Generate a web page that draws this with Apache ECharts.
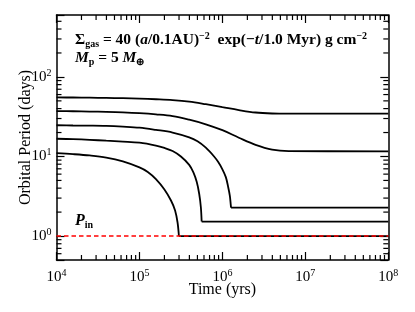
<!DOCTYPE html>
<html><head><meta charset="utf-8">
<script src="https://cdn.jsdelivr.net/npm/echarts@6/dist/echarts.min.js"></script>
<style>html,body{margin:0;padding:0;background:#fff}#c{width:415px;height:312px}</style>
</head><body><div id="c"></div>
<script>
// ---- data (time in yr, orbital period in days) ----
const xRange = [1e4, 1e8];
const yRange = [0.5, 600];
const xTickLabels = ['10^4', '10^5', '10^6', '10^7', '10^8'];
const yTickLabels = ['10^0', '10^1', '10^2'];
const planet1 = [[1e4,55.2],[1.58e4,55.1],[2.51e4,54.8],[3.98e4,54.5],[6.31e4,54.0],[1e5,53.3],[1.58e5,52.4],[2.51e5,51.2],[3.98e5,49.0],[6.31e5,45.4],[1e6,41.7],[1.58e6,38.3],[2.51e6,35.7],[3.98e6,34.7],[6.31e6,34.5],[1e8,34.5]];
const planet2 = [[1e4,37.2],[1.58e4,37.0],[2.51e4,36.7],[3.98e4,36.4],[6.31e4,35.9],[1e5,35.1],[1.58e5,33.9],[2.51e5,32.2],[3.98e5,29.0],[6.31e5,25.4],[1e6,21.4],[1.58e6,17.2],[2.51e6,14.0],[3.98e6,12.2],[6.31e6,11.7],[1e8,11.6]];
const planet3 = [[1e4,24.7],[1.58e4,24.5],[2.51e4,24.4],[3.98e4,24.2],[6.31e4,23.7],[1e5,23.0],[1.58e5,21.6],[2.51e5,20.0],[3.98e5,17.4],[5.01e5,15.5],[6.31e5,12.9],[7.94e5,10.0],[8.91e5,8.5],[1e6,6.9],[1.10e6,5.5],[1.17e6,4.2],[1.23e6,3.2],[1.26e6,2.5],[1.27e6,2.28],[1e8,2.28]];
const planet4 = [[1e4,16.7],[1.58e4,16.5],[2.51e4,16.2],[3.98e4,15.8],[6.31e4,15.4],[1e5,14.9],[1.58e5,13.7],[2.0e5,12.8],[2.51e5,11.7],[3.16e5,10.0],[3.98e5,7.85],[4.47e5,6.3],[4.90e5,4.8],[5.25e5,3.4],[5.50e5,2.3],[5.62e5,1.52],[1e8,1.52]];
const planet5 = [[1e4,11.0],[1.58e4,10.7],[2.51e4,10.3],[3.98e4,9.7],[6.31e4,8.7],[1e5,7.3],[1.26e5,6.4],[1.58e5,5.2],[2.0e5,3.85],[2.40e5,2.8],[2.69e5,2.1],[2.88e5,1.48],[2.99e5,1.0],[1e8,1.0]];
const pInner = [[1e4,1.0],[1e8,1.0]];

const FONT = 'Liberation Serif';
const chart = echarts.init(document.getElementById('c'), null, {renderer:'canvas'});

function expLabel(v){
  const e = Math.round(Math.log10(v));
  if (Math.abs(Math.log10(v) - e) > 1e-6) return '';
  return '{b|10}{s|' + e + '}';
}
const labelRich = {
  b:{fontFamily:FONT,fontSize:15,lineHeight:18,color:'#000'},
  s:{fontFamily:FONT,fontSize:10,lineHeight:11,verticalAlign:'top',color:'#000'}
};
const axLine = {show:true,onZero:false,lineStyle:{color:'#000',width:1.5}};
const majTick = {show:true,inside:true,length:8,lineStyle:{color:'#000',width:1.2}};

// minor tick positions (decoration)
const xMinor = [], yMinor = [];
for (let d = 4; d < 8; d++) for (let k = 2; k <= 9; k++) xMinor.push([k*Math.pow(10,d), yRange[0]]);
for (let d = -1; d < 3; d++) for (let k = 2; k <= 9; k++) { const v = k*Math.pow(10,d); if (v > yRange[0] && v < yRange[1]) yMinor.push([xRange[0], v]); }

function lineSeries(data, smooth){
  return {type:'line',data:data,showSymbol:false,symbol:'none',smooth:smooth,
    lineStyle:{color:'#000',width:1.8},xAxisIndex:0,yAxisIndex:0,z:3,animation:false};
}
// curves with a sharp corner: smooth part up to the corner, straight flat part afterwards
function cornerSeries(data){
  return [lineSeries(data.slice(0, data.length-1), 0.35), lineSeries(data.slice(data.length-2), false)];
}
const ML = 5;
const bold = {fontFamily:FONT,fontSize:15.5,fontWeight:'bold',lineHeight:18,color:'#000'};
const boldIt = Object.assign({}, bold, {fontStyle:'italic'});
const subS = {fontFamily:FONT,fontSize:10,fontWeight:'bold',lineHeight:11,verticalAlign:'bottom',color:'#000'};
const supS = {fontFamily:FONT,fontSize:10,fontWeight:'bold',lineHeight:11,verticalAlign:'top',color:'#000'};
chart.setOption({
  animation:false,
  grid:{left:56.5,right:26.7,top:15,bottom:52},
  xAxis:[
    {type:'log',min:xRange[0],max:xRange[1],position:'bottom',axisLine:axLine,axisTick:majTick,splitLine:{show:false},
     axisLabel:{formatter:expLabel,margin:8,rich:labelRich,showMinLabel:true,showMaxLabel:true},
     name:'Time (yrs)',nameLocation:'middle',nameGap:22,nameMoveOverlap:false,nameTextStyle:{fontFamily:FONT,fontSize:16,color:'#000'}},
    {type:'log',min:xRange[0],max:xRange[1],position:'top',axisLine:axLine,axisTick:majTick,splitLine:{show:false},axisLabel:{show:false}}
  ],
  yAxis:[
    {type:'log',min:yRange[0],max:yRange[1],position:'left',axisLine:axLine,axisTick:majTick,splitLine:{show:false},
     axisLabel:{formatter:expLabel,margin:5,rich:labelRich},
     name:'Orbital Period (days)',nameLocation:'middle',nameGap:23,nameMoveOverlap:false,nameRotate:90,nameTextStyle:{fontFamily:FONT,fontSize:16,color:'#000'}},
    {type:'log',min:yRange[0],max:yRange[1],position:'right',axisLine:axLine,axisTick:majTick,splitLine:{show:false},axisLabel:{show:false}}
  ],
  series:[
    lineSeries(planet1,0.35),lineSeries(planet2,0.35)
  ].concat(cornerSeries(planet3),cornerSeries(planet4),cornerSeries(planet5),[
    {type:'line',data:pInner,showSymbol:false,symbol:'none',lineStyle:{color:'#ff0000',width:1.6,type:[4.5,3]},z:4},
    {type:'custom',data:xMinor,clip:false,z:5,silent:true,encode:{x:0,y:1},
     renderItem:function(p,api){
       const v=api.value(0); const b=api.coord([v,yRange[0]]); const t=api.coord([v,yRange[1]]);
       const st={stroke:'#000',lineWidth:1.2};
       return {type:'group',children:[
         {type:'line',shape:{x1:b[0],y1:b[1],x2:b[0],y2:b[1]-ML},style:st},
         {type:'line',shape:{x1:t[0],y1:t[1],x2:t[0],y2:t[1]+ML},style:st}]};
     }},
    {type:'custom',data:yMinor,clip:false,z:5,silent:true,encode:{x:0,y:1},
     renderItem:function(p,api){
       const v=api.value(1); const l=api.coord([xRange[0],v]); const r=api.coord([xRange[1],v]);
       const st={stroke:'#000',lineWidth:1.2};
       return {type:'group',children:[
         {type:'line',shape:{x1:l[0],y1:l[1],x2:l[0]+ML,y2:l[1]},style:st},
         {type:'line',shape:{x1:r[0],y1:r[1],x2:r[0]-ML,y2:r[1]},style:st}]};
     }}
  ]),
  graphic:[
    {type:'text',left:75,top:31,z:10,style:{
      text:'{n|Σ}{sub|gas}{n| = 40 (}{i|a}{n|/0.1AU)}{sup|−2}{n|  exp(−}{i|t}{n|/1.0 Myr) g cm}{sup|−2}',
      rich:{n:bold,i:boldIt,sub:subS,sup:supS}}},
    {type:'text',left:75,top:50,z:10,style:{
      text:'{i|M}{sub|p}{n| = 5 }{i|M}{sub|⊕}',
      rich:{n:bold,i:boldIt,sub:subS}}},
    {type:'text',left:75,top:213,z:10,style:{
      text:'{i|P}{sub|in}',
      rich:{
        i:{fontFamily:FONT,fontSize:16,fontWeight:'bold',fontStyle:'italic',lineHeight:19,color:'#ff0000'},
        sub:{fontFamily:FONT,fontSize:10,fontWeight:'bold',lineHeight:11,verticalAlign:'bottom',color:'#ff0000'}
      }}}
  ]
});
</script></body></html>
